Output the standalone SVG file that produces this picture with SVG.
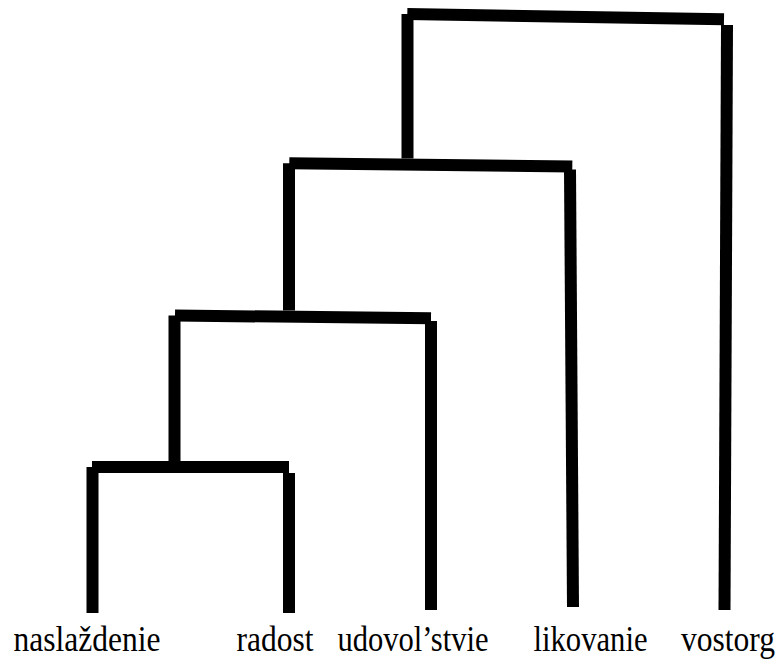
<svg xmlns="http://www.w3.org/2000/svg" width="778" height="659" viewBox="0 0 778 659">
  <style>
    .branch { stroke: #000; stroke-width: 12; stroke-linecap: butt; fill: none; }
    .leaf { font-family: "Liberation Serif", "Times New Roman", serif; font-size: 35px; fill: #000; }
  </style>
  <rect width="778" height="659" fill="#fff"/>

  <!-- dendrogram branches -->
  <g id="connectors">
    <!-- cluster 1: naslaždenie + radost -->
    <line class="branch" x1="92" y1="467" x2="289" y2="467"/>
    <line class="branch" x1="92.5" y1="467" x2="92.5" y2="613"/>
    <line class="branch" x1="289" y1="473" x2="289" y2="613"/>
    <!-- cluster 2: + udovol'stvie -->
    <line class="branch" x1="175" y1="315.5" x2="431" y2="318.3"/>
    <line class="branch" x1="174.5" y1="315.5" x2="174.5" y2="461.5"/>
    <line class="branch" x1="431" y1="321" x2="431" y2="610"/>
    <!-- cluster 3: + likovanie -->
    <line class="branch" x1="289.3" y1="163.3" x2="572.3" y2="166.5"/>
    <line class="branch" x1="289" y1="163.3" x2="289" y2="310.5"/>
    <line class="branch" x1="570" y1="169.5" x2="573" y2="607"/>
    <!-- cluster 4: + vostorg -->
    <line class="branch" x1="407.3" y1="14" x2="724" y2="19.2"/>
    <line class="branch" x1="407.5" y1="14" x2="407.5" y2="158.5"/>
    <line class="branch" x1="727" y1="25" x2="724.5" y2="610"/>
  </g>

  <!-- leaf labels (condensed serif) -->
  <g id="leaf-naslazdenie"><text class="leaf" x="13.5" y="651" textLength="147" lengthAdjust="spacingAndGlyphs">naslaždenie</text></g>
  <g id="leaf-radost"><text class="leaf" x="236.5" y="651" textLength="77" lengthAdjust="spacingAndGlyphs">radost</text></g>
  <g id="leaf-udovolstvie"><text class="leaf" x="337.5" y="651" textLength="151" lengthAdjust="spacingAndGlyphs">udovol’stvie</text></g>
  <g id="leaf-likovanie"><text class="leaf" x="533.5" y="651" textLength="114" lengthAdjust="spacingAndGlyphs">likovanie</text></g>
  <g id="leaf-vostorg"><text class="leaf" x="681" y="651" textLength="94" lengthAdjust="spacingAndGlyphs">vostorg</text></g>
</svg>
